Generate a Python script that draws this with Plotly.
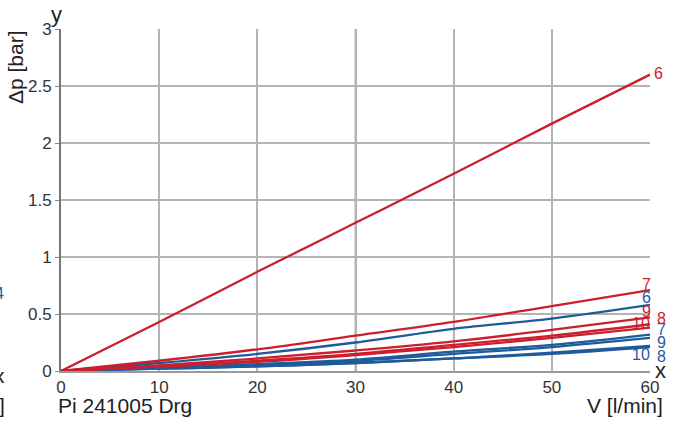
import plotly.graph_objects as go

# ---- data ----
flow = [0, 10, 20, 30, 40, 50, 60]  # V [l/min]

red_names = ["6", "7", "9", "8", "10"]
red_values = [
    [0, 0.43, 0.87, 1.30, 1.73, 2.17, 2.60],
    [0, 0.09, 0.19, 0.31, 0.43, 0.57, 0.71],
    [0, 0.05, 0.11, 0.18, 0.26, 0.36, 0.47],
    [0, 0.04, 0.09, 0.15, 0.23, 0.31, 0.41],
    [0, 0.04, 0.08, 0.14, 0.21, 0.29, 0.38],
]

blue_names = ["6", "7", "9", "10", "8"]
blue_values = [
    [0, 0.07, 0.15, 0.25, 0.37, 0.46, 0.58],
    [0, 0.03, 0.06, 0.10, 0.17, 0.23, 0.32],
    [0, 0.03, 0.05, 0.09, 0.15, 0.21, 0.29],
    [0, 0.02, 0.04, 0.07, 0.11, 0.16, 0.22],
    [0, 0.02, 0.04, 0.07, 0.11, 0.15, 0.21],
]

x_ticks = [0, 10, 20, 30, 40, 50, 60]
y_ticks = [0, 0.5, 1, 1.5, 2, 2.5, 3]
y_tick_text = ["0", "0.5", "1", "1.5", "2", "2.5", "3"]

# ---- styles ----
RED = "#cc1f2d"
BLUE = "#1d5b9b"
FONT = "Liberation Sans, Arial, sans-serif"

# label offsets (px) for end labels: (xshift, yshift)
red_offsets = [(8, 1), (-4, 6), (-4, 6), (11, 6), (-9, 4)]
blue_offsets = [(-4, 7), (11, 5), (11, -5), (-9, -9), (11, -9)]

fig = go.Figure()
annotations = []

for name, vals, off in zip(blue_names, blue_values, blue_offsets):
    fig.add_trace(go.Scatter(x=flow, y=vals, mode="lines", name=name,
                             line=dict(color=BLUE, width=2.3), line_shape="spline"))
    annotations.append(dict(x=flow[-1], y=vals[-1], xref="x", yref="y", text=name,
                            showarrow=False, xshift=off[0], yshift=off[1],
                            font=dict(color=BLUE, size=16, family=FONT)))

for name, vals, off in zip(red_names, red_values, red_offsets):
    fig.add_trace(go.Scatter(x=flow, y=vals, mode="lines", name=name,
                             line=dict(color=RED, width=2.3), line_shape="spline"))
    annotations.append(dict(x=flow[-1], y=vals[-1], xref="x", yref="y", text=name,
                            showarrow=False, xshift=off[0], yshift=off[1],
                            font=dict(color=RED, size=16, family=FONT)))

# axis titles / texts
annotations += [
    dict(x=-0.007, y=1.0, xref="paper", yref="paper", text="y", showarrow=False,
         xanchor="center", yanchor="bottom", yshift=0, font=dict(size=22, color="#222", family=FONT)),
    dict(x=1.0, y=0, xref="paper", yref="paper", text="x", showarrow=False,
         xanchor="left", yanchor="middle", xshift=3, yshift=1, font=dict(size=22, color="#222", family=FONT)),
    dict(x=-0.078, y=1.0, xref="paper", yref="paper", text="Δp [bar]", showarrow=False,
         textangle=-90, xanchor="center", yanchor="top", yshift=1, font=dict(size=21, color="#222", family=FONT)),
    dict(x=-0.008, y=0, xref="paper", yref="paper", text="Pi 241005 Drg", showarrow=False,
         xanchor="left", yanchor="top", yshift=-21, font=dict(size=21, color="#222", family=FONT)),
    dict(x=1.026, y=0, xref="paper", yref="paper", text="V [l/min]", showarrow=False,
         xanchor="right", yanchor="top", yshift=-21, font=dict(size=21, color="#222", family=FONT)),
    # fragments of the neighbouring chart at the left edge
    dict(x=-0.104, y=0, xref="paper", yref="paper", text="x", showarrow=False,
         xanchor="center", yanchor="middle", yshift=-4, font=dict(size=21, color="#222", family=FONT)),
    dict(x=-0.1, y=0, xref="paper", yref="paper", text="]", showarrow=False,
         xanchor="center", yanchor="middle", yshift=-34, font=dict(size=21, color="#222", family=FONT)),
    dict(x=-0.104, y=0.5, xref="paper", yref="y", text="4", showarrow=False,
         xanchor="center", yanchor="middle", yshift=21, font=dict(size=16, color=BLUE, family=FONT)),
]

fig.update_layout(
    width=680, height=424,
    margin=dict(l=61, r=30, t=29, b=53),
    paper_bgcolor="white", plot_bgcolor="white",
    showlegend=False,
    annotations=annotations,
    font=dict(family=FONT, color="#333"),
    shapes=[dict(type="line", xref="x", yref="paper", x0=30, x1=30, y0=0, y1=1,
                 line=dict(color="#6a6a6a", width=1.5), layer="below")],
)

fig.update_xaxes(range=[0, 60], tickvals=x_ticks, ticktext=[str(v) for v in x_ticks],
                 showgrid=True, gridcolor="#b3b3b3", gridwidth=1.5,
                 showline=True, linecolor="#9a9a9a", linewidth=2,
                 zeroline=False, ticks="", tickfont=dict(size=17, color="#333"),
                 fixedrange=True)
fig.update_yaxes(range=[0, 3], tickvals=y_ticks, ticktext=y_tick_text,
                 showgrid=True, gridcolor="#b3b3b3", gridwidth=1.5,
                 showline=True, linecolor="#777777", linewidth=2,
                 zeroline=False, ticks="outside", ticklen=4, tickcolor="#888",
                 tickfont=dict(size=17, color="#333"), fixedrange=True)

fig.write_html("out.html", config={"displayModeBar": False},
               post_script="document.body.style.margin='0';document.body.style.overflow='hidden';")
